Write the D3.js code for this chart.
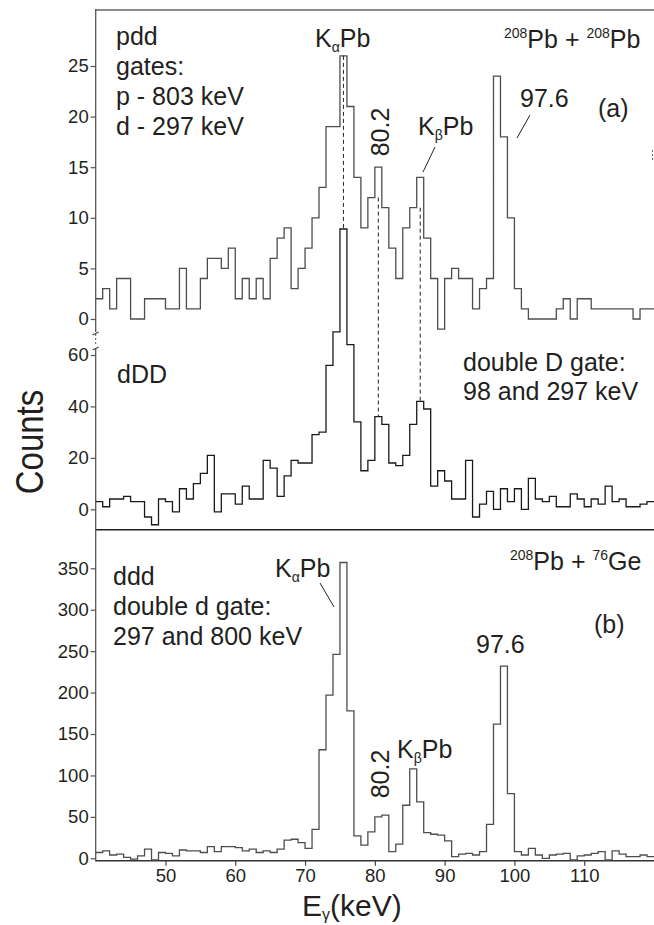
<!DOCTYPE html>
<html>
<head>
<meta charset="utf-8">
<script src="https://cdn.jsdelivr.net/npm/d3@7"></script>
<style>
  body { margin: 0; background: #fff; }
  text { font-family: Arial, "Liberation Sans", sans-serif; fill: #231f20; }
</style>
</head>
<body>
<svg id="chart" width="654" height="925"></svg>
<script>
// Lower edge of each 1 keV bin
const binStart = [40,41,42,43,44,45,46,47,48,49,50,51,52,53,54,55,56,57,58,59,
                  60,61,62,63,64,65,66,67,68,69,70,71,72,73,74,75,76,77,78,79,
                  80,81,82,83,84,85,86,87,88,89,90,91,92,93,94,95,96,97,98,99,
                  100,101,102,103,104,105,106,107,108,109,110,111,112,113,114,115,116,117,118,119];

// (a) 208Pb + 208Pb, pdd gates
const countsPdd = [2,3,1,4,4,0,0,2,2,2,1,1,5,1,1,4,6,6,5,7,
                   2,4,2,4,2,6,8,9,3,5,7,10,13,19,19,26,21,14,9,12,
                   15,11,7,4,9,11,14,8,4,-1,4,5,4,4,1,3,4,24,18,10,
                   3,1,0,0,0,0,1,2,0,2,2,1,1,1,1,1,1,0,1,1];

// (a) 208Pb + 208Pb, dDD double D gate
const countsDDD = [3,1,4,4,5,3,3,-3,-6,4,3,-1,8,4,10,14,21,-1,6,6,
                   2,9,4,4,19,16,5,13,19,18,18,29,30,56,69,109,64,34,15,19,
                   36,33,18,17,21,33,42,39,9,15,11,4,4,19,-3,2,7,0,8,3,
                   8,0,12,4,3,5,1,1,6,4,1,4,2,9,3,4,1,1,2,3];

// (b) 208Pb + 76Ge, ddd double d gate
const countsDdd = [7,9,4,5,1,-1,3,11,-2,7,6,3,10,9,9,7,14,8,14,14,
                   13,9,11,7,9,7,11,22,23,19,12,35,131,197,246,357,178,27,16,32,
                   50,52,8,17,64,108,68,31,29,28,21,2,5,6,4,8,41,162,232,78,
                   8,4,12,4,0,4,5,6,-2,3,4,6,8,-2,9,5,2,2,4,2];

const xTicks  = [50,60,70,80,90,100,110];
const yTicksA = [0,5,10,15,20,25];
const yTicksM = [0,20,40,60];
const yTicksB = [0,50,100,150,200,250,300,350];

// Guide lines joining the pdd and dDD peaks: energy, top count (pdd), bottom count (dDD)
const guideEnergy = [75.5, 80.5, 86.5];
const guideTop    = [26, 12, 11];
const guideBottom = [109, 36, 42];

const svg = d3.select("#chart");

const x  = d3.scaleLinear().domain([40, 120]).range([95.7, 654]);
const yA = d3.scaleLinear().domain([0, 25]).range([319, 66]);
const yM = d3.scaleLinear().domain([0, 60]).range([509.3, 355]);
const yB = d3.scaleLinear().domain([0, 350]).range([858.3, 568.3]);

function histPath(values, y) {
  const pts = binStart.map((e, i) => [e, values[i]]);
  pts.push([binStart[binStart.length - 1] + 1, values[values.length - 1]]);
  return d3.line().x(d => x(d[0])).y(d => y(d[1])).curve(d3.curveStepAfter)(pts);
}

// frame lines
const x0 = x(40), x1 = x(120);
svg.append("line").attr("x1", x0).attr("x2", x1).attr("y1", 10).attr("y2", 10)
  .attr("stroke", "#8c8c8c").attr("stroke-width", 2.2);
svg.append("line").attr("x1", x0).attr("x2", x1).attr("y1", 529.8).attr("y2", 529.8)
  .attr("stroke", "#222").attr("stroke-width", 1.5);
svg.append("line").attr("x1", x0).attr("x2", x1).attr("y1", 860.8).attr("y2", 860.8)
  .attr("stroke", "#333").attr("stroke-width", 1.5);

// left axis line with a break between the two upper panels
svg.append("line").attr("x1", x0).attr("x2", x0).attr("y1", 9).attr("y2", 332)
  .attr("stroke", "#555").attr("stroke-width", 1.3);
svg.append("line").attr("x1", x0).attr("x2", x0).attr("y1", 334).attr("y2", 346)
  .attr("stroke", "#555").attr("stroke-width", 1).attr("stroke-dasharray", "2,2");
svg.append("line").attr("x1", x0).attr("x2", x0).attr("y1", 348).attr("y2", 861.5)
  .attr("stroke", "#555").attr("stroke-width", 1.3);
[[332, 335], [347, 350]].forEach(([a, b]) => {
  svg.append("line").attr("x1", x0 - 3).attr("y1", b).attr("x2", x0 + 3).attr("y2", a)
    .attr("stroke", "#444").attr("stroke-width", 1.2);
});
// small right-edge break mark
svg.append("line").attr("x1", 652.5).attr("x2", 652.5).attr("y1", 150).attr("y2", 161)
  .attr("stroke", "#666").attr("stroke-width", 1).attr("stroke-dasharray", "2,2");

// y axes
function leftAxis(scale, ticks) {
  const g = svg.append("g").attr("transform", `translate(${x0},0)`)
    .call(d3.axisLeft(scale).tickValues(ticks).tickSize(5).tickPadding(2).tickFormat(d3.format("d")));
  g.select(".domain").remove();
  g.selectAll("line").attr("stroke", "#555").attr("stroke-width", 1.2);
  g.selectAll("text").attr("font-size", "18.5px").attr("font-family", "Arial, 'Liberation Sans', sans-serif")
    .attr("fill", "#231f20");
}
leftAxis(yA, yTicksA);
leftAxis(yM, yTicksM);
leftAxis(yB, yTicksB);

// x axis
const gx = svg.append("g").attr("transform", "translate(0,860.8)")
  .call(d3.axisBottom(x).tickValues(xTicks).tickSize(5).tickPadding(3));
gx.select(".domain").remove();
gx.selectAll("line").attr("stroke", "#444").attr("stroke-width", 1.2);
gx.selectAll("text").attr("font-size", "18.5px").attr("font-family", "Arial, 'Liberation Sans', sans-serif")
  .attr("fill", "#231f20");

// histograms
svg.append("path").attr("d", histPath(countsPdd, yA)).attr("fill", "none")
  .attr("stroke", "#4d4d4d").attr("stroke-width", 1.3);
svg.append("path").attr("d", histPath(countsDDD, yM)).attr("fill", "none")
  .attr("stroke", "#1a1a1a").attr("stroke-width", 1.3);
svg.append("path").attr("d", histPath(countsDdd, yB)).attr("fill", "none")
  .attr("stroke", "#4d4d4d").attr("stroke-width", 1.3);

// dashed guides
guideEnergy.forEach((e, i) => {
  svg.append("line").attr("x1", x(e)).attr("x2", x(e))
    .attr("y1", yA(guideTop[i])).attr("y2", yM(guideBottom[i]))
    .attr("stroke", "#222").attr("stroke-width", 1).attr("stroke-dasharray", "4,3");
});

// text helpers
function label(xp, yp, str, size = 25) {
  return svg.append("text").attr("x", xp).attr("y", yp).attr("font-size", size + "px").text(str);
}
function kLabel(xp, yp, sub) {
  const t = svg.append("text").attr("x", xp).attr("y", yp).attr("font-size", "25px");
  t.append("tspan").text("K");
  t.append("tspan").attr("font-size", "14px").attr("dy", 5).text(sub);
  t.append("tspan").attr("dy", -5).text("Pb");
}
function reaction(xp, yp, a1, e1, a2, e2) {
  const t = svg.append("text").attr("x", xp).attr("y", yp).attr("font-size", "25px");
  t.append("tspan").attr("font-size", "14px").attr("dy", -10).text(a1);
  t.append("tspan").attr("dy", 10).text(e1 + " + ");
  t.append("tspan").attr("font-size", "14px").attr("dy", -10).text(a2);
  t.append("tspan").attr("dy", 10).text(e2);
}
function vLabel(xp, yp, str) {
  svg.append("text").attr("transform", `translate(${xp},${yp}) rotate(-90)`)
    .attr("text-anchor", "middle").attr("font-size", "25px").text(str);
}
function leader(xa, ya, xb, yb) {
  svg.append("line").attr("x1", xa).attr("y1", ya).attr("x2", xb).attr("y2", yb)
    .attr("stroke", "#222").attr("stroke-width", 1);
}

// panel (a) upper: pdd
label(116, 45, "pdd");
label(116, 75, "gates:");
label(116, 105, "p - 803 keV");
label(116, 135, "d - 297 keV");
kLabel(315, 47, "α");
vLabel(389, 132, "80.2");
kLabel(418, 135, "β");
leader(435, 147, 423, 172);
label(520, 107, "97.6");
leader(530, 115, 517, 138);
label(598, 117, "(a)");
reaction(504, 48, "208", "Pb", "208", "Pb");

// panel (a) lower: dDD
label(117, 383, "dDD");
label(463, 371, "double D gate:");
label(463, 400, "98 and 297 keV");

// panel (b): ddd
label(113, 585, "ddd");
label(113, 615, "double d gate:");
label(113, 645, "297 and 800 keV");
kLabel(275, 577, "α");
leader(320, 583, 334, 607);
reaction(510, 570, "208", "Pb", "76", "Ge");
label(594, 633, "(b)");
label(476, 653, "97.6");
vLabel(389, 774, "80.2");
kLabel(397, 758, "β");

// axis titles
svg.append("text").attr("transform", "translate(43,442) rotate(-90) scale(1,1.2)")
  .attr("text-anchor", "middle").attr("font-size", "33px").text("Counts");
const xt = svg.append("text").attr("x", 302).attr("y", 916).attr("font-size", "30px");
xt.append("tspan").text("E");
xt.append("tspan").attr("font-size", "16px").attr("dy", 4).text("γ");
xt.append("tspan").attr("dy", -4).text("(keV)");
</script>
</body>
</html>
